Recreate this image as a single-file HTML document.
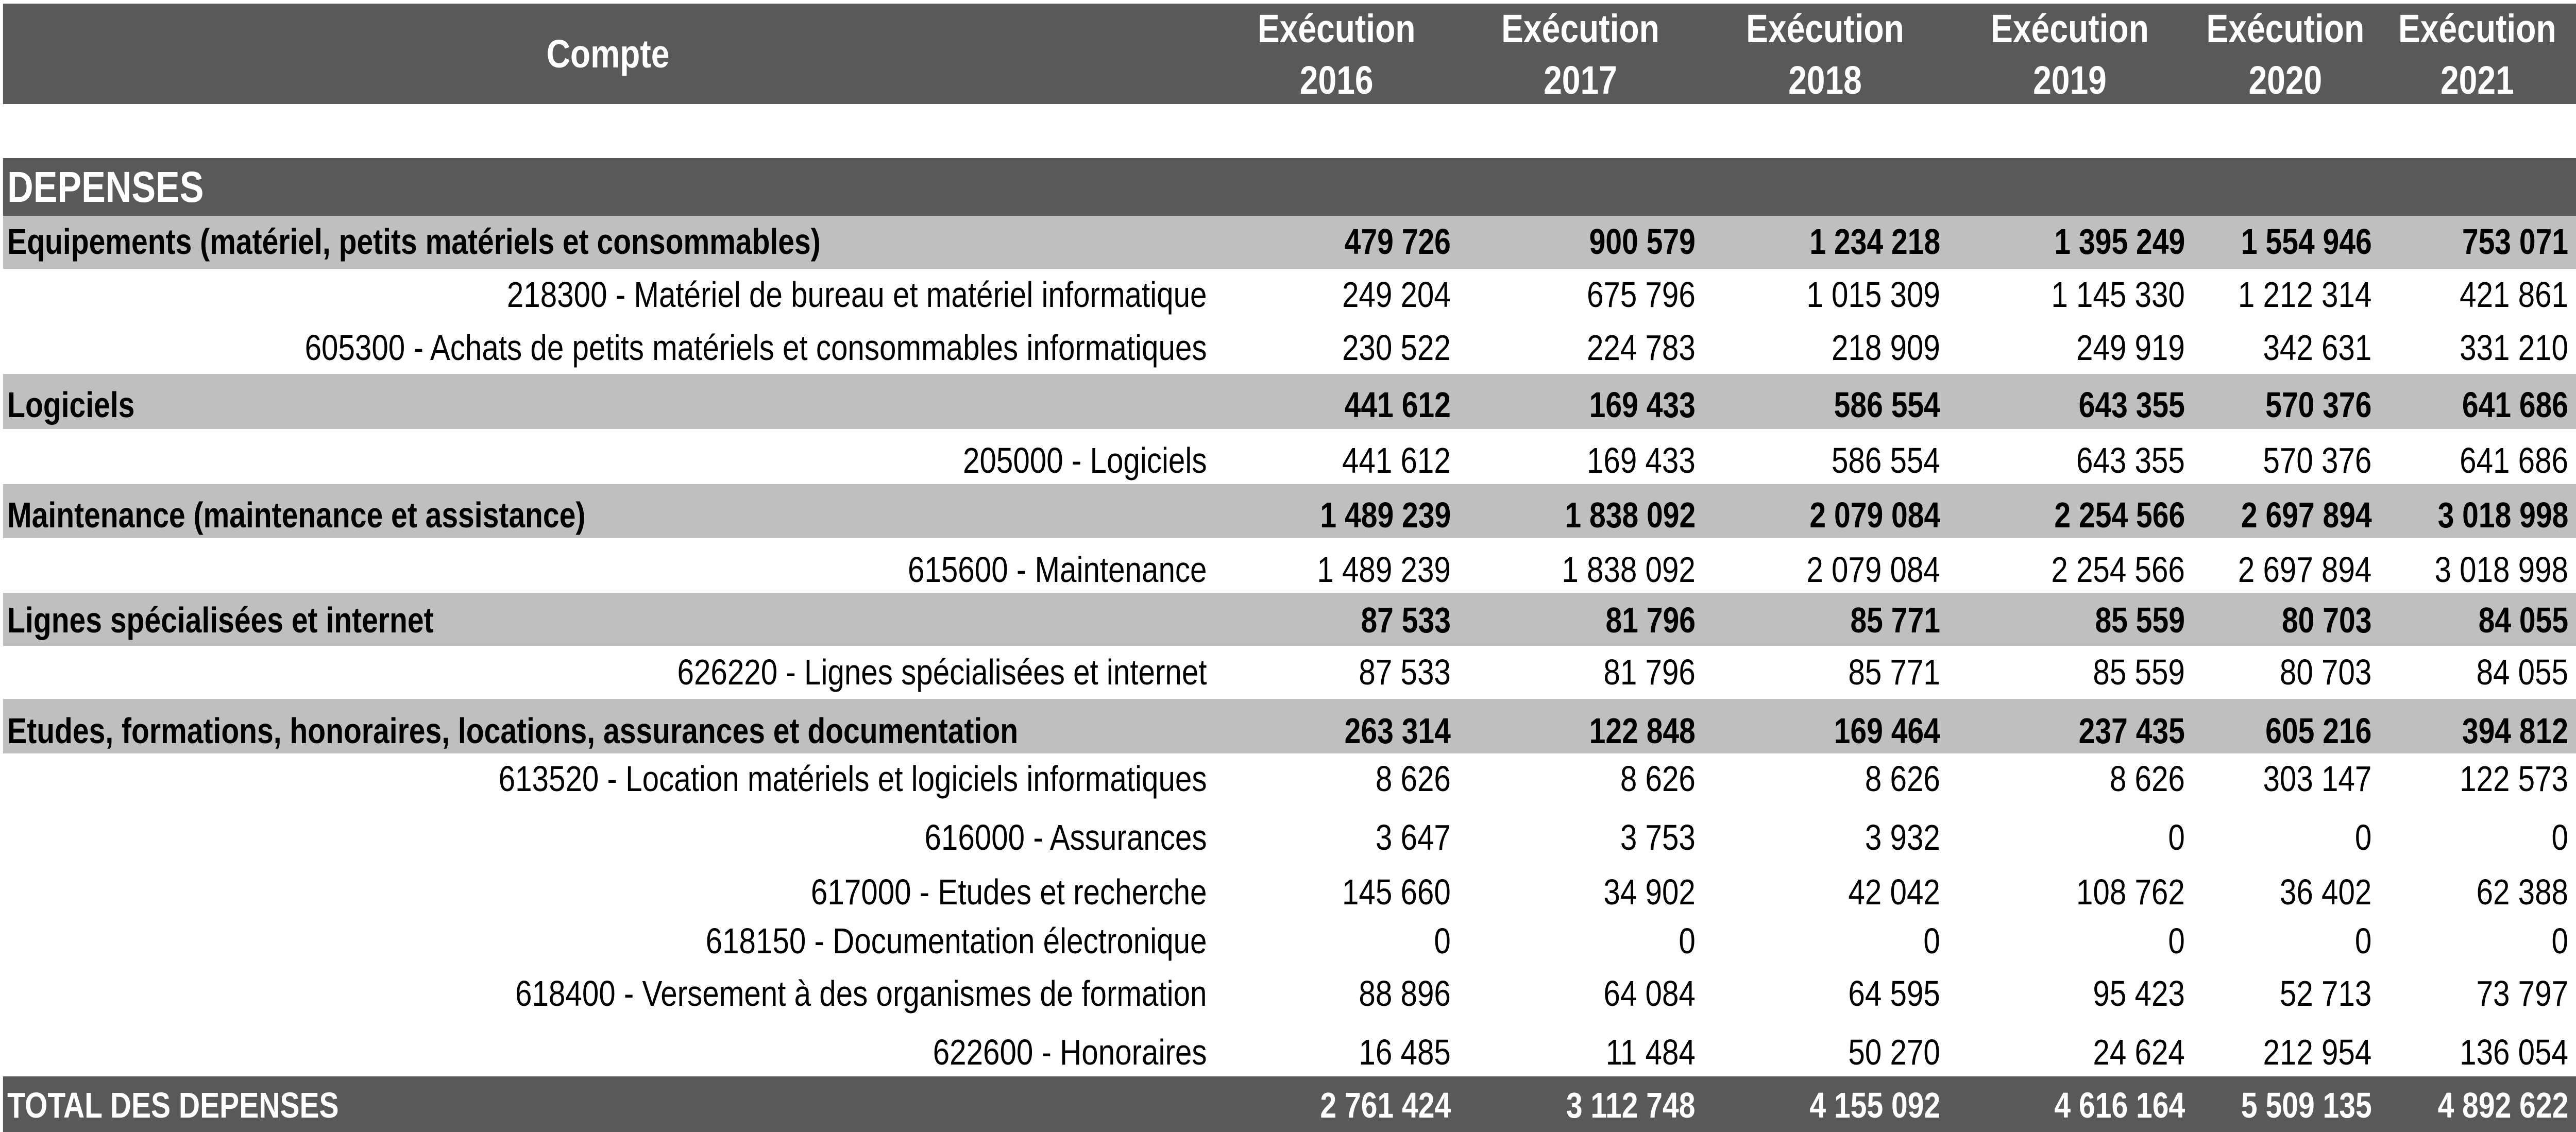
<!DOCTYPE html>
<html><head><meta charset="utf-8">
<style>
html,body{margin:0;padding:0;background:#fff;overflow:hidden;}
#root{position:absolute;left:0;top:0;width:6000px;height:2198px;overflow:hidden;font-family:"Liberation Sans",sans-serif;transform-origin:0 0;}
.band{position:absolute;left:7px;width:5993px;}
.dark{background:#595959;}
.light{background:#bfbfbf;}
.t{position:absolute;height:100px;line-height:100px;white-space:nowrap;}
.t span{display:inline-block;}
.r{text-align:right;}
.r span{transform-origin:100% 50%;}
.l span{transform-origin:0 50%;}
.c{text-align:center;}
</style></head>
<body>
<div id="root">
  <div class="band dark" style="top:7px;height:195px"></div>
  <div class="band dark" style="top:307px;height:112px"></div>
</div>
<script>
const years = ["2016","2017","2018","2019","2020","2021"];
const labels = [
 "Equipements (matériel, petits matériels et consommables)",
 "218300 - Matériel de bureau et matériel informatique",
 "605300 - Achats de petits matériels et consommables informatiques",
 "Logiciels",
 "205000 - Logiciels",
 "Maintenance (maintenance et assistance)",
 "615600 - Maintenance",
 "Lignes spécialisées et internet",
 "626220 - Lignes spécialisées et internet",
 "Etudes, formations, honoraires, locations, assurances et documentation",
 "613520 - Location matériels et logiciels informatiques",
 "616000 - Assurances",
 "617000 - Etudes et recherche",
 "618150 - Documentation électronique",
 "618400 - Versement à des organismes de formation",
 "622600 - Honoraires",
 "TOTAL DES DEPENSES"
];
const kinds = ["group","sub","sub","group","sub","group","sub","group","sub","group","sub","sub","sub","sub","sub","sub","total"];
const values = [
 [479726,900579,1234218,1395249,1554946,753071],
 [249204,675796,1015309,1145330,1212314,421861],
 [230522,224783,218909,249919,342631,331210],
 [441612,169433,586554,643355,570376,641686],
 [441612,169433,586554,643355,570376,641686],
 [1489239,1838092,2079084,2254566,2697894,3018998],
 [1489239,1838092,2079084,2254566,2697894,3018998],
 [87533,81796,85771,85559,80703,84055],
 [87533,81796,85771,85559,80703,84055],
 [263314,122848,169464,237435,605216,394812],
 [8626,8626,8626,8626,303147,122573],
 [3647,3753,3932,0,0,0],
 [145660,34902,42042,108762,36402,62388],
 [0,0,0,0,0,0],
 [88896,64084,64595,95423,52713,73797],
 [16485,11484,50270,24624,212954,136054],
 [2761424,3112748,4155092,4616164,5509135,4892622]
];
const rowCenters=[469,572,675,786,894,1000,1106,1204,1305,1419,1512,1626,1732,1827,1929,2043,2146];
const bandTops={0:419,3:726,5:940,7:1151,9:1357,16:2090};
const bandBottoms={0:522,3:833,5:1045,7:1254,9:1463,16:2198};
const colRight=[3379,3949,4519,5089,5524,5982];
const colCenter=[3113,3681,4251,4821,5323,5770];
const labelRight=2811;
const root=document.getElementById('root');
function fmt(v){return String(v).replace(/\B(?=(\d{3})+(?!\d))/g,' ');}
function text(str,cls,x,cy,size,bold,color){
  const d=document.createElement('div');
  d.className='t '+cls;
  d.style.top=(cy-50)+'px';
  if(cls==='r'){d.style.right=(6000-x)+'px';}
  else if(cls==='l'){d.style.left=x+'px';}
  else {d.style.left=(x-220)+'px';d.style.width='440px';}
  d.style.fontSize=size+'px';
  d.style.fontWeight=bold?'bold':'normal';
  d.style.color=color;
  const s=document.createElement('span');
  s.textContent=str;
  d.appendChild(s);
  root.appendChild(d);
  return d;
}
let h=text("Compte","c",1416,105,77,true,"#fff");


years.forEach((y,i)=>{
  let a=text("Exécution","c",colCenter[i],56,77,true,"#fff");
  
  
  let b=text(y,"c",colCenter[i],156,77,true,"#fff");
  
  
});
let dep=text("DEPENSES","l",17,363,84,true,"#fff");


Object.keys(bandTops).forEach(k=>{
  const b=document.createElement('div');
  b.className='band '+(kinds[k]==='total'?'dark':'light');
  b.style.top=bandTops[k]+'px';
  b.style.height=(bandBottoms[k]-bandTops[k])+'px';
  
  
  root.insertBefore(b,root.firstChild);
});
const regSpans=[],boldSpans=[];
const FS=70;
labels.forEach((lab,r)=>{
  const k=kinds[r];
  const bold=k!=='sub';
  const color=k==='total'?'#fff':'#000';
  let d;
  if(k==='sub'){d=text(lab,'r',labelRight,rowCenters[r],FS,false,color);}
  else{d=text(lab,'l',17,rowCenters[r],FS,true,color);}
  
  
  (bold?boldSpans:regSpans).push(d.firstChild);
  values[r].forEach((v,c)=>{
    const e=text(fmt(v),'r',colRight[c],rowCenters[r],FS,bold,color);
    
    
    (bold?boldSpans:regSpans).push(e.firstChild);
  });
});
const regW=regSpans.find(s=>s.textContent.startsWith('605300')).offsetWidth;
const boldW=boldSpans.find(s=>s.textContent.startsWith('Equipements')).offsetWidth;
const sr=Math.min(1,2170/regW), sb=Math.min(1,1894/boldW);
regSpans.forEach(s=>s.style.transform='scaleX('+sr+')');
boldSpans.forEach(s=>s.style.transform='scaleX('+sb+')');
function fit(){
  const w=window.innerWidth||document.documentElement.clientWidth||6000;
  const hh=window.innerHeight||document.documentElement.clientHeight||2198;
  const sx=w/6000, sy=hh/2198;
  root.style.transform=(sx===1&&sy===1)?'none':'scale('+sx+','+sy+')';
}
fit();
window.addEventListener('resize',fit);
</script>
</body></html>
